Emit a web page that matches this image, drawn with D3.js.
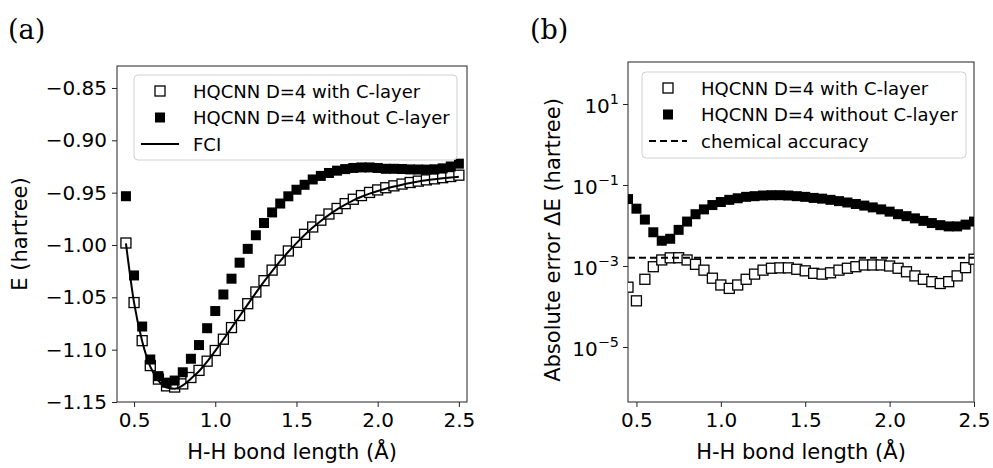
<!DOCTYPE html>
<html lang="en">
    <head>
        <meta charset="utf-8"/>
        <script src="https://d3js.org/d3.v7.min.js"></script>
        <style>
            body { margin: 0; background: #fff; }
            text { font-family: "DejaVu Sans", sans-serif; fill: #000; }
        </style>
    </head>
    <body>
        <div id="chart"></div>
    </body>
    <script>
        // H-H bond length (angstrom)
        var bondLength = [0.45, 0.50, 0.55, 0.60, 0.65, 0.70, 0.75, 0.80, 0.85, 0.90,
            0.95, 1.00, 1.05, 1.10, 1.15, 1.20, 1.25, 1.30, 1.35, 1.40,
            1.45, 1.50, 1.55, 1.60, 1.65, 1.70, 1.75, 1.80, 1.85, 1.90,
            1.95, 2.00, 2.05, 2.10, 2.15, 2.20, 2.25, 2.30, 2.35, 2.40,
            2.45, 2.50];

        var fci = [-0.9984, -1.0551, -1.0919, -1.1162, -1.1295, -1.1362, -1.1373, -1.1341, -1.1277, -1.1206,
            -1.1115, -1.1011, -1.0903, -1.0792, -1.0679, -1.0567, -1.0457, -1.0350, -1.0249, -1.0154,
            -1.0065, -0.9982, -0.9905, -0.9834, -0.9770, -0.9712, -0.9660, -0.9615, -0.9574, -0.9539,
            -0.9509, -0.9484, -0.9462, -0.9442, -0.9424, -0.9408, -0.9394, -0.9382, -0.9372, -0.9363,
            -0.9355, -0.9348];

        var energyWith = [-0.9981, -1.0550, -1.0914, -1.1152, -1.1281, -1.1346, -1.1357, -1.1327, -1.1266, -1.1198,
            -1.1110, -1.1008, -1.0900, -1.0789, -1.0674, -1.0561, -1.0449, -1.0341, -1.0240, -1.0145,
            -1.0057, -0.9974, -0.9898, -0.9828, -0.9763, -0.9704, -0.9651, -0.9605, -0.9563, -0.9528,
            -0.9498, -0.9474, -0.9453, -0.9435, -0.9418, -0.9403, -0.9390, -0.9378, -0.9368, -0.9357,
            -0.9346, -0.9333];

        var energyWithout = [-0.9534, -1.0291, -1.0779, -1.1094, -1.1253, -1.1315, -1.1295, -1.1216, -1.1087, -1.0956,
            -1.0795, -1.0631, -1.0473, -1.0322, -1.0169, -1.0037, -0.9907, -0.9790, -0.9689, -0.9604,
            -0.9535, -0.9472, -0.9425, -0.9374, -0.9340, -0.9312, -0.9290, -0.9275, -0.9264, -0.9259,
            -0.9259, -0.9264, -0.9272, -0.9272, -0.9274, -0.9278, -0.9279, -0.9280, -0.9277, -0.9268,
            -0.9250, -0.9223];

        var errorWith = [0.00030, 0.000138, 0.00047, 0.00096, 0.00141, 0.00159, 0.00160, 0.00141, 0.00110, 0.00079,
            0.00050, 0.00034, 0.00028, 0.00034, 0.00047, 0.00063, 0.00079, 0.00088, 0.00090, 0.00090,
            0.00083, 0.00076, 0.00066, 0.00063, 0.00068, 0.00079, 0.00088, 0.00096, 0.00106, 0.00106,
            0.00106, 0.00100, 0.00088, 0.00072, 0.00057, 0.00047, 0.00041, 0.00037, 0.00041, 0.00057,
            0.00091, 0.00147];

        var errorWithout = [0.045, 0.026, 0.014, 0.0068, 0.0042, 0.0047, 0.0078, 0.0125, 0.019, 0.025,
            0.032, 0.038, 0.043, 0.047, 0.051, 0.053, 0.055, 0.056, 0.056, 0.055,
            0.053, 0.051, 0.048, 0.046, 0.043, 0.040, 0.037, 0.034, 0.031, 0.028,
            0.025, 0.022, 0.019, 0.017, 0.015, 0.013, 0.0115, 0.0102, 0.0095, 0.0095,
            0.0105, 0.0125];

        var chemicalAccuracy = 0.0016;

        var xTicks = [0.5, 1.0, 1.5, 2.0, 2.5];
        var energyTicks = [-1.15, -1.10, -1.05, -1.00, -0.95, -0.90, -0.85];
        var errorTicks = [1e1, 1e-1, 1e-3, 1e-5];

        var legendWith = "HQCNN D=4 with C-layer";
        var legendWithout = "HQCNN D=4 without C-layer";

        var W = 993, H = 468;
        var tickFont = 20, labelFont = 21, legendFont = 18;
        var ms = 10;

        var svg = d3.select("#chart")
            .append("svg")
                .attr("width", W)
                .attr("height", H);

        function zip(ys) {
            return bondLength.map(function (x, i) { return { x: x, y: ys[i] }; });
        }

        function minus(s) { return s.replace("-", "\u2212"); }

        // ---------- panel (a) ----------
        var xa = d3.scaleLinear().domain([0.395, 2.55]).range([117, 467]);
        var ya = d3.scaleLinear().domain([-1.15, -0.829]).range([402, 66]);

        var ga = svg.append("g");

        ga.append("g")
            .attr("transform", "translate(0," + 402 + ")")
            .call(d3.axisBottom(xa).tickValues(xTicks).tickFormat(d3.format(".1f")).tickSizeOuter(0).tickSize(5).tickPadding(6))
            .call(styleAxis);

        ga.append("g")
            .attr("transform", "translate(" + 117 + ",0)")
            .call(d3.axisLeft(ya).tickValues(energyTicks).tickFormat(function (d) { return minus(d3.format(".2f")(d)); }).tickSizeOuter(0).tickSize(5).tickPadding(5))
            .call(styleAxis);

        ga.append("rect")
            .attr("x", 117).attr("y", 66)
            .attr("width", 467 - 117).attr("height", 402 - 66)
            .attr("fill", "none").attr("stroke", "#222").attr("stroke-width", 1);

        ga.selectAll("rect.open")
            .data(zip(energyWith))
            .enter()
            .append("rect")
                .attr("class", "open")
                .attr("x", function (d) { return xa(d.x) - ms / 2; })
                .attr("y", function (d) { return ya(d.y) - ms / 2; })
                .attr("width", ms).attr("height", ms)
                .attr("fill", "#fff").attr("stroke", "#000").attr("stroke-width", 1.3);

        ga.selectAll("rect.filled")
            .data(zip(energyWithout))
            .enter()
            .append("rect")
                .attr("class", "filled")
                .attr("x", function (d) { return xa(d.x) - ms / 2; })
                .attr("y", function (d) { return ya(d.y) - ms / 2; })
                .attr("width", ms).attr("height", ms)
                .attr("fill", "#000");

        ga.append("path")
            .datum(zip(fci))
            .attr("fill", "none")
            .attr("stroke", "#000")
            .attr("stroke-width", 2)
            .attr("d", d3.line().x(function (d) { return xa(d.x); }).y(function (d) { return ya(d.y); }).curve(d3.curveMonotoneX));

        ga.append("text")
            .attr("transform", "translate(20," + 234 + ") rotate(-90)")
            .attr("text-anchor", "middle")
            .attr("dominant-baseline", "central")
            .style("font-size", labelFont + "px")
            .text("E (hartree)");

        ga.append("text")
            .attr("x", (117 + 467) / 2).attr("y", 459)
            .attr("text-anchor", "middle")
            .style("font-size", labelFont + "px")
            .text("H-H bond length (\u00c5)");

        ga.append("text")
            .attr("x", 8).attr("y", 39)
            .style("font-family", "'DejaVu Serif', serif")
            .style("font-size", "27px")
            .text("(a)");

        legend(ga, 134, 75, 323, 85, [
            { kind: "open", label: legendWith },
            { kind: "filled", label: legendWithout },
            { kind: "line", label: "FCI" }
        ]);

        // ---------- panel (b) ----------
        var xb = d3.scaleLinear().domain([0.45, 2.5]).range([628, 974]);
        var yb = d3.scaleLog().domain([Math.pow(10, -6.358), Math.pow(10, 2.037)]).range([402, 62]);

        var gb = svg.append("g");

        gb.append("g")
            .attr("transform", "translate(0," + 402 + ")")
            .call(d3.axisBottom(xb).tickValues(xTicks).tickFormat(d3.format(".1f")).tickSizeOuter(0).tickSize(5).tickPadding(6))
            .call(styleAxis);

        var yAxisB = gb.append("g")
            .attr("transform", "translate(" + 628 + ",0)")
            .call(d3.axisLeft(yb).tickValues(errorTicks).tickFormat(function () { return ""; }).tickSizeOuter(0).tickSize(5))
            .call(styleAxis);

        yAxisB.selectAll(".tick text").each(function (d) {
            var e = Math.round(Math.log10(d));
            var t = d3.select(this).text("").attr("x", -9).attr("dy", "0.42em");
            t.append("tspan").text("10");
            t.append("tspan").attr("dy", "-0.62em").style("font-size", "0.72em").text(minus(String(e)));
        });

        gb.append("rect")
            .attr("x", 628).attr("y", 62)
            .attr("width", 974 - 628).attr("height", 402 - 62)
            .attr("fill", "none").attr("stroke", "#222").attr("stroke-width", 1);

        var clip = gb.append("clipPath").attr("id", "clipb");
        clip.append("rect").attr("x", 628).attr("y", 62).attr("width", 974 - 628).attr("height", 402 - 62);

        var plotB = gb.append("g").attr("clip-path", "url(#clipb)");

        plotB.selectAll("rect.open")
            .data(zip(errorWith))
            .enter()
            .append("rect")
                .attr("class", "open")
                .attr("x", function (d) { return xb(d.x) - ms / 2; })
                .attr("y", function (d) { return yb(d.y) - ms / 2; })
                .attr("width", ms).attr("height", ms)
                .attr("fill", "#fff").attr("stroke", "#000").attr("stroke-width", 1.3);

        plotB.selectAll("rect.filled")
            .data(zip(errorWithout))
            .enter()
            .append("rect")
                .attr("class", "filled")
                .attr("x", function (d) { return xb(d.x) - ms / 2; })
                .attr("y", function (d) { return yb(d.y) - ms / 2; })
                .attr("width", ms).attr("height", ms)
                .attr("fill", "#000");

        plotB.append("line")
            .attr("x1", xb(0.45)).attr("x2", xb(2.5))
            .attr("y1", yb(chemicalAccuracy)).attr("y2", yb(chemicalAccuracy))
            .attr("stroke", "#000").attr("stroke-width", 2)
            .attr("stroke-dasharray", "7,4");

        gb.append("text")
            .attr("transform", "translate(553," + 240 + ") rotate(-90)")
            .attr("text-anchor", "middle")
            .attr("dominant-baseline", "central")
            .style("font-size", labelFont + "px")
            .text("Absolute error \u0394E (hartree)");

        gb.append("text")
            .attr("x", (628 + 974) / 2).attr("y", 459)
            .attr("text-anchor", "middle")
            .style("font-size", labelFont + "px")
            .text("H-H bond length (\u00c5)");

        gb.append("text")
            .attr("x", 530).attr("y", 39)
            .style("font-family", "'DejaVu Serif', serif")
            .style("font-size", "27px")
            .text("(b)");

        legend(gb, 642, 72, 324, 86, [
            { kind: "open", label: legendWith },
            { kind: "filled", label: legendWithout },
            { kind: "dash", label: "chemical accuracy" }
        ]);

        function styleAxis(g) {
            g.select(".domain").remove();
            g.selectAll(".tick line").attr("stroke", "#222");
            g.selectAll(".tick text").style("font-size", tickFont + "px").attr("fill", "#000");
        }

        function legend(g, x, y, w, h, items) {
            var lg = g.append("g");
            lg.append("rect")
                .attr("x", x).attr("y", y).attr("width", w).attr("height", h)
                .attr("rx", 4)
                .attr("fill", "#fff").attr("fill-opacity", 0.8)
                .attr("stroke", "#d0d0d0");
            items.forEach(function (it, i) {
                var cy = y + 16 + i * 26.5;
                var cx = x + 26;
                if (it.kind === "open") {
                    lg.append("rect").attr("x", cx - ms / 2).attr("y", cy - ms / 2).attr("width", ms).attr("height", ms)
                        .attr("fill", "#fff").attr("stroke", "#000").attr("stroke-width", 1.3);
                } else if (it.kind === "filled") {
                    lg.append("rect").attr("x", cx - ms / 2).attr("y", cy - ms / 2).attr("width", ms).attr("height", ms)
                        .attr("fill", "#000");
                } else {
                    lg.append("line").attr("x1", cx - 19).attr("x2", cx + 19).attr("y1", cy).attr("y2", cy)
                        .attr("stroke", "#000").attr("stroke-width", 2)
                        .attr("stroke-dasharray", it.kind === "dash" ? "7,4" : null);
                }
                lg.append("text")
                    .attr("x", x + 59).attr("y", cy)
                    .attr("dominant-baseline", "central")
                    .style("font-size", legendFont + "px")
                    .text(it.label);
            });
        }
    </script>
</html>
